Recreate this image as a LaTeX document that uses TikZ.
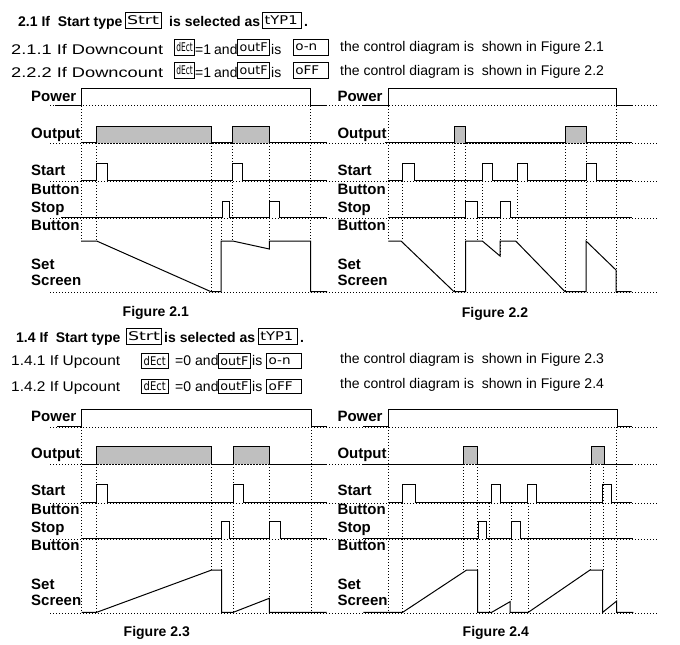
\documentclass[tikz,border=0pt]{standalone}
\usepackage{fontspec}
\setmainfont{Liberation Sans}
\newfontfamily\segfont{DejaVu Sans}
\newcommand\segbox[7]{% name, x1, x2, ytop, ybot, textwidth, text
  \draw[line width=0.6pt] (#2,#4) rectangle (#3,#5);
  \node[seg] (#1) at ({#2+1.8},{(#4+#5)/2}) {\resizebox{#6pt}{\height}{#7}};
}
\begin{document}
\begin{tikzpicture}[x=1pt,y=-1pt,
  wave/.style={line width=1pt, line join=miter},
  dotline/.style={line width=0.8pt, dash pattern=on 0.8pt off 2.2pt},
  lbl/.style={font=\fontsize{15}{16}\selectfont\bfseries, anchor=base west, inner sep=0pt},
  ttl/.style={font=\fontsize{14}{15}\selectfont\bfseries, anchor=base west, inner sep=0pt},
  txt/.style={font=\fontsize{14}{15}\selectfont, anchor=base west, inner sep=0pt},
  seg/.style={font=\segfont\fontsize{12}{12}\selectfont, anchor=west, inner sep=0pt},
  capt/.style={font=\fontsize{14}{15}\selectfont\bfseries, anchor=base, inner sep=0pt},
  outfill/.style={fill=black!25}
]
\useasboundingbox (0,0) rectangle (680,645);

% ---------------- header, section 1 ----------------
\node[ttl] (t1a) at (18,26.5) {2.1 If\ \ Start type};
\segbox{s1}{125}{161.7}{12.7}{28.3}{32}{Strt}
\node[ttl] (t1b) at (169,26.5) {is selected as};
\segbox{s2}{262.7}{301.7}{12.7}{28.3}{33}{tYP1}
\node[ttl] (t1c) at (304,26.5) {.};

\node[txt] (l1a) at (11,54) {\resizebox{152pt}{\height}{2.1.1 If Downcount}};
\segbox{s3}{174.3}{194.3}{39.3}{55}{16.5}{dEct}
\node[txt] (l1b) at (195,54) {=1};
\node[txt] (l1c) at (214,54) {and};
\segbox{s4}{237.7}{269.3}{39.3}{55}{28}{outF}
\node[txt] (l1d) at (271,54) {is};
\segbox{s5}{293.3}{328.3}{39.3}{55}{22}{o-n}
\node[txt] (l1e) at (340,51.5) {the control diagram is\ \ shown in Figure 2.1};

\node[txt] (l2a) at (11,77.7) {\resizebox{152pt}{\height}{2.2.2 If Downcount}};
\segbox{s6}{174.3}{194.3}{62.7}{78.3}{16.5}{dEct}
\node[txt] (l2b) at (195,77.7) {=1};
\node[txt] (l2c) at (214,77.7) {and};
\segbox{s7}{237.7}{269.3}{62.7}{78.3}{28}{outF}
\node[txt] (l2d) at (271,77.7) {is};
\segbox{s8}{293.3}{328.3}{62.7}{78.3}{24}{oFF}
\node[txt] (l2e) at (340,75.5) {the control diagram is\ \ shown in Figure 2.2};

% ---------------- header, section 2 ----------------
\node[ttl] (t2a) at (16,342.3) {1.4 If\ \ Start type};
\segbox{s9}{126}{161.7}{328.3}{344.3}{32}{Strt}
\node[ttl] (t2b) at (164,342.3) {is selected as};
\segbox{s10}{258.3}{297.7}{328.3}{344.3}{33}{tYP1}
\node[ttl] (t2c) at (300,342.3) {.};

\node[txt] (l3a) at (11,365.7) {\resizebox{109pt}{\height}{1.4.1 If Upcount}};
\segbox{s11}{141.7}{168.3}{353.3}{368.3}{22}{dEct}
\node[txt] (l3b) at (175,365.7) {=0};
\node[txt] (l3c) at (195,365.7) {and};
\segbox{s12}{218.3}{250}{353.3}{368.3}{28}{outF}
\node[txt] (l3d) at (252,365.7) {is};
\segbox{s13}{266.7}{301.7}{353.3}{368.3}{22}{o-n}
\node[txt] (l3e) at (340,363) {the control diagram is\ \ shown in Figure 2.3};

\node[txt] (l4a) at (11,391.5) {\resizebox{109pt}{\height}{1.4.2 If Upcount}};
\segbox{s14}{141.7}{168.3}{379}{393.3}{22}{dEct}
\node[txt] (l4b) at (175,391.5) {=0};
\node[txt] (l4c) at (195,391.5) {and};
\segbox{s15}{218.3}{250}{379}{393.3}{28}{outF}
\node[txt] (l4d) at (252,391.5) {is};
\segbox{s16}{266.7}{301.7}{379}{393.3}{24}{oFF}
\node[txt] (l4e) at (340,388.5) {the control diagram is\ \ shown in Figure 2.4};

% ---------------- row labels ----------------
\foreach \t/\yy [count=\i] in {Power/101, Output/138, Start/175.5, Button/194.5, Stop/212, Button/230, Set/269, Screen/285.7} {
  \node[lbl] (pa\i) at (31,\yy) {\t};
  \node[lbl] (pb\i) at (337.3,\yy) {\t};
  \node[lbl] (pc\i) at (31,\yy+320) {\t};
  \node[lbl] (pd\i) at (337.3,\yy+320) {\t};
}

% ---------------- dotted row baselines ----------------
\foreach \yy in {105.8,143.5,181.5,218.5,292.5,427.5,464.8,503,539,613}
  \draw[dotline] (50,\yy) -- (657,\yy);

% ---------------- dotted verticals ----------------
\foreach \xx/\ya/\yb in {
  81/106/241, 96/143/241, 211/143/291.7, 221/218/241, 232.7/143/241, 269.3/143/249, 310.7/106/241,
  388.3/106/241, 402.7/181/241, 454/143/291.7, 465.7/143/241, 477.7/218/241, 482.3/181/241, 500/218/256, 517.7/181/241, 565.7/143/291.7, 586/143/241, 616.7/106/295,
  81.7/427/612, 96.7/464/612, 211.7/464/570, 221.7/539/570, 233.3/464/612, 269.3/464/598, 311.7/427/612,
  388.3/427/612, 402.7/503/612, 463.3/464/570, 477.7/464/570, 489/503/612, 511/503/601.7, 528.3/503/612, 590/464/570, 603/464/570, 616.7/427/601}
  \draw[dotline] (\xx,\ya) -- (\xx,\yb);

% ---------------- Figure 2.1 ----------------
\fill[outfill] (96,142.7) rectangle (211,126.7);
\fill[outfill] (232.7,142.7) rectangle (269.3,126.7);
\draw[dotline] (96,143.5) -- (269.3,143.5);
\draw[wave] (55,105) -- (81,105) -- (81,88) -- (310.7,88) -- (310.7,105) -- (327,105);
\draw[wave] (81,142.7) -- (96,142.7) -- (96,126.7) -- (211,126.7) -- (211,142.7) -- (232.7,142.7) -- (232.7,126.7) -- (269.3,126.7) -- (269.3,142.7) -- (327,142.7);
\draw[wave] (81,180.7) -- (96,180.7) -- (96,163.3) -- (107.3,163.3) -- (107.3,180.7) -- (232.7,180.7) -- (232.7,163.3) -- (242.3,163.3) -- (242.3,180.7) -- (327,180.7);
\draw[wave] (61,217.7) -- (222.3,217.7) -- (222.3,201.7) -- (229.3,201.7) -- (229.3,217.7) -- (269.3,217.7) -- (269.3,201.7) -- (279.3,201.7) -- (279.3,217.7) -- (327,217.7);
\draw[wave] (81,241) -- (96.7,241) -- (211,291.7) -- (221,291.7) -- (221,241) -- (232.7,241) -- (269.3,249) -- (269.3,241) -- (310.7,241) -- (310.7,291.7) -- (327,291.7);
\node[capt] (f1) at (155.8,316.7) {Figure 2.1};

% ---------------- Figure 2.2 ----------------
\fill[outfill] (454,142.7) rectangle (465.7,126.7);
\fill[outfill] (565.7,142.7) rectangle (586,126.7);
\draw[dotline] (454,143.5) -- (586,143.5);
\draw[wave] (363,105) -- (388.3,105) -- (388.3,88) -- (616.7,88) -- (616.7,105) -- (631.7,105);
\draw[wave] (385,142.7) -- (454,142.7) -- (454,126.7) -- (465.7,126.7) -- (465.7,142.7) -- (565.7,142.7) -- (565.7,126.7) -- (586,126.7) -- (586,142.7) -- (631.7,142.7);
\draw[wave] (388,180.7) -- (402.7,180.7) -- (402.7,163.3) -- (414.3,163.3) -- (414.3,180.7) -- (482.3,180.7) -- (482.3,163.3) -- (492.3,163.3) -- (492.3,180.7) -- (517.7,180.7) -- (517.7,163.3) -- (527.7,163.3) -- (527.7,180.7) -- (586,180.7) -- (586,163.3) -- (596.7,163.3) -- (596.7,180.7) -- (631.7,180.7);
\draw[wave] (388,217.7) -- (465.7,217.7) -- (465.7,201.7) -- (477.7,201.7) -- (477.7,217.7) -- (500,217.7) -- (500,201.7) -- (510,201.7) -- (510,217.7) -- (631.7,217.7);
\draw[wave] (388.3,241) -- (401,241) -- (454,291.7) -- (465.7,291.7) -- (465.7,241) -- (482.3,241) -- (500,256) -- (500,241) -- (515.7,241) -- (565,291.7) -- (586,291.7) -- (586,241) -- (616,270) -- (616,291.7) -- (631.7,291.7);
\node[capt] (f2) at (495,317.2) {Figure 2.2};

% ---------------- Figure 2.3 ----------------
\fill[outfill] (96.7,464) rectangle (211.7,446);
\fill[outfill] (233.3,464) rectangle (269.3,446);
\draw[dotline] (96.7,464.8) -- (269.3,464.8);
\draw[wave] (57,426.7) -- (81.7,426.7) -- (81.7,409) -- (311.7,409) -- (311.7,426.7) -- (327,426.7);
\draw[wave] (81.7,464) -- (96.7,464) -- (96.7,446) -- (211.7,446) -- (211.7,464) -- (233.3,464) -- (233.3,446) -- (269.3,446) -- (269.3,464) -- (327,464);
\draw[wave] (81.7,502.3) -- (96.7,502.3) -- (96.7,484) -- (107.7,484) -- (107.7,502.3) -- (233.3,502.3) -- (233.3,484) -- (243.3,484) -- (243.3,502.3) -- (327,502.3);
\draw[wave] (81.7,538.3) -- (221.7,538.3) -- (221.7,521.7) -- (229.3,521.7) -- (229.3,538.3) -- (269.3,538.3) -- (269.3,521.7) -- (280,521.7) -- (280,538.3) -- (326.7,538.3);
\draw[wave] (81.7,612.3) -- (96.7,612.3) -- (211.7,570) -- (221.7,570) -- (221.7,612.3) -- (233.3,612.3) -- (269.3,598.3) -- (269.3,612.3) -- (326.7,612.3);
\node[capt] (f3) at (156.8,636.7) {Figure 2.3};

% ---------------- Figure 2.4 ----------------
\fill[outfill] (463.3,464) rectangle (477.7,446);
\fill[outfill] (591,464) rectangle (604,446);
\draw[dotline] (463.3,464.8) -- (604,464.8);
\draw[wave] (363,426.7) -- (388.3,426.7) -- (388.3,409) -- (617.3,409) -- (617.3,426.7) -- (631.7,426.7);
\draw[wave] (363,464) -- (463.3,464) -- (463.3,446) -- (477.7,446) -- (477.7,464) -- (591,464) -- (591,446) -- (604,446) -- (604,464) -- (631.7,464);
\draw[wave] (388,502.3) -- (402.7,502.3) -- (402.7,484) -- (415,484) -- (415,502.3) -- (491.7,502.3) -- (491.7,484) -- (500.7,484) -- (500.7,502.3) -- (527.3,502.3) -- (527.3,484) -- (536.7,484) -- (536.7,502.3) -- (602.7,502.3) -- (602.7,484) -- (611.7,484) -- (611.7,502.3) -- (631.7,502.3);
\draw[wave] (363,538.3) -- (478.3,538.3) -- (478.3,521.7) -- (486.7,521.7) -- (486.7,538.3) -- (511,538.3) -- (511,521.7) -- (520,521.7) -- (520,538.3) -- (633,538.3);
\draw[wave] (363.3,612.3) -- (402.7,612.3) -- (466.7,570) -- (477.7,570) -- (477.7,612.3) -- (491.7,612.3) -- (510,601.7) -- (510,612.3) -- (528.3,612.3) -- (590,570) -- (602.7,570) -- (602.7,612.3) -- (616.7,601) -- (616.7,612.3) -- (633.3,612.3);
\node[capt] (f4) at (495.8,636.7) {Figure 2.4};
\end{tikzpicture}
\end{document}
